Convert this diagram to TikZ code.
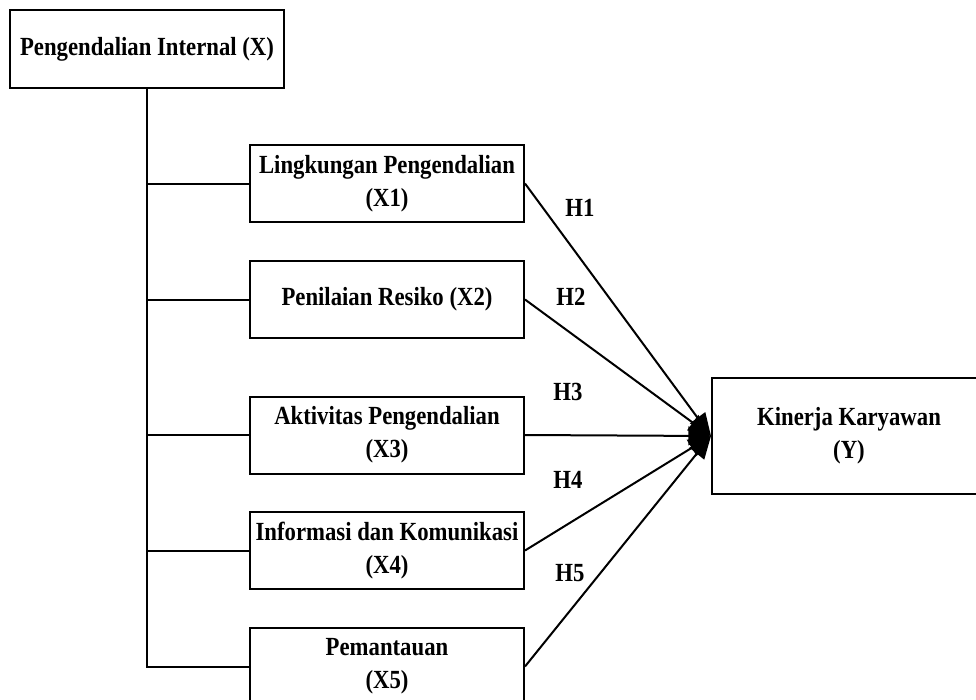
\documentclass[tikz,border=0pt]{standalone}
\usepackage{fontspec}
\setmainfont{Liberation Serif}[FakeStretch=0.87]
\usepackage{tikz}
\usetikzlibrary{arrows.meta}

\begin{document}
\begin{tikzpicture}[x=0.75pt,y=-0.75pt,line width=1.5pt,
    font=\fontsize{19.6}{24.75}\selectfont\bfseries,
    box/.style={draw,align=center,inner sep=0pt,minimum width=205.5pt,minimum height=57.75pt},
    hyp/.style={inner sep=1pt},
    arr/.style={-{Triangle[length=17pt,width=14pt]}}]
      \useasboundingbox[fill=white] (0,0) rectangle (976,700);
      \node[box,minimum height=58.5pt] (x) at (147,49) {Pengendalian Internal (X)};
      \node[box] (x1) at (387,183.5) {Lingkungan Pengendalian\\(X1)};
      \node[box] (x2) at (387,299.5) {Penilaian Resiko (X2)};
      \node[box] (x3) at (387,435) {Aktivitas Pengendalian\\(X3)};
      \node[box] (x4) at (387,550.5) {Informasi dan Komunikasi\\(X4)};
      \node[box] (x5) at (387,666.5) {Pemantauan\\(X5)};
      \node[box,minimum height=87pt] (y) at (849,436) {Kinerja Karyawan\\(Y)};
      \node[hyp] (h1) at (580,208) {H1};
      \node[hyp] (h2) at (571,297) {H2};
      \node[hyp] (h3) at (568,392) {H3};
      \node[hyp] (h4) at (568,480) {H4};
      \node[hyp] (h5) at (570,573) {H5};
      \draw (x.south) |- (x5.west);
      \draw (x1.west) -- (x1.west -| x.south);
      \draw (x2.west) -- (x2.west -| x.south);
      \draw (x3.west) -- (x3.west -| x.south);
      \draw (x4.west) -- (x4.west -| x.south);
      \draw[arr] (x1.east) -- (y.west);
      \draw[arr] (x2.east) -- (y.west);
      \draw[arr] (x3.east) -- (y.west);
      \draw[arr] (x4.east) -- (y.west);
      \draw[arr] (x5.east) -- (y.west);
    \end{tikzpicture}
\end{document}
